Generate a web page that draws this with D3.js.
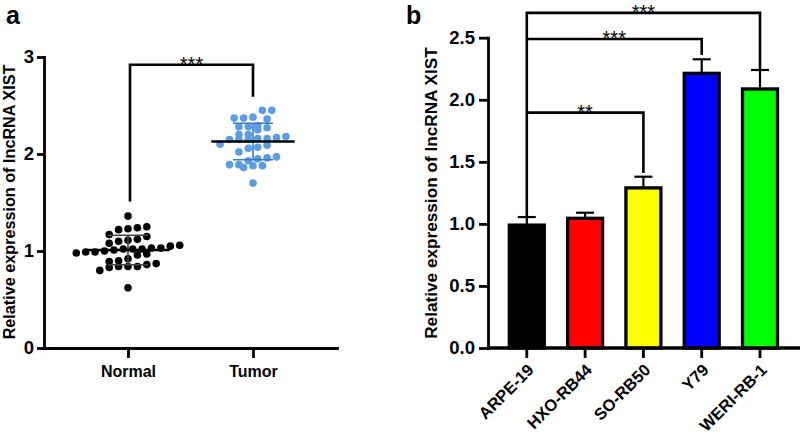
<!DOCTYPE html>
<html><head><meta charset="utf-8">
<script src="https://cdn.jsdelivr.net/npm/d3@7/dist/d3.min.js"></script>
<style>
html,body{margin:0;padding:0;background:#fff;}
svg{display:block;font-family:"Liberation Sans",Arial,Helvetica,sans-serif;}
</style></head>
<body>
<svg id="chart" width="800" height="434"></svg>
<script>
// ---------- Panel a data ----------
const groupsA = ["Normal", "Tumor"];
const normalValues = [1.36,1.25,1.24,1.23,1.22,1.17,1.15,1.12,1.11,1.10,1.08,1.06,1.05,1.03,1.03,1.02,1.02,1.02,1.01,1.00,
  0.99,0.99,0.98,0.97,0.96,0.92,0.90,0.89,0.87,0.86,0.84,0.84,0.84,0.83,0.80,0.62];
const tumorValues = [2.45,2.45,2.38,2.37,2.37,2.36,2.29,2.28,2.28,2.27,2.25,2.20,2.20,2.18,2.17,2.16,2.16,2.15,2.15,2.15,
  2.10,2.09,2.07,2.06,2.02,1.97,1.96,1.95,1.93,1.89,1.89,1.88,1.88,1.86,1.70];
const ticksA = [0, 1, 2, 3];
const sigA = [{from:"Normal", to:"Tumor", top:2.92, leftEnd:1.51, rightEnd:2.59, label:"***"}];

// ---------- Panel b data ----------
const cellLines = ["ARPE-19", "HXO-RB44", "SO-RB50", "Y79", "WERI-RB-1"];
const barValues = [0.99, 1.045, 1.29, 2.213, 2.087];
const barErrors = [0.065, 0.045, 0.09, 0.113, 0.153];
const barColors = ["#000000", "#ff0000", "#ffff00", "#0000ff", "#00ff00"];
const ticksB = [0, 0.5, 1.0, 1.5, 2.0, 2.5];
const sigB = [
  {from:"ARPE-19", to:"WERI-RB-1", top:2.70, leftEnd:1.056, rightEnd:2.24, label:"***"},
  {from:"ARPE-19", to:"Y79", top:2.49, leftEnd:2.49, rightEnd:2.36, label:"***"},
  {from:"ARPE-19", to:"SO-RB50", top:1.896, leftEnd:1.896, rightEnd:1.41, label:"**"}
];

const svg = d3.select("#chart");
const AXW = 2.8;

// ================= Panel a =================
const yA = d3.scaleLinear().domain([0,3]).range([348,57]);
const xA = d3.scalePoint().domain(groupsA).range([44,337]).padding(0.672);
const gA = svg.append("g");

const yAxisA = gA.append("g").attr("transform","translate(44,0)")
  .call(d3.axisLeft(yA).tickValues(ticksA).tickFormat(d3.format("d")).tickSize(7).tickSizeOuter(0).tickPadding(3));
const xAxisA = gA.append("g").attr("transform","translate(0,348)")
  .call(d3.axisBottom(xA).tickSize(10).tickSizeOuter(0).tickPadding(5));
[yAxisA, xAxisA].forEach(ax=>{
  ax.selectAll("path,line").attr("stroke","#000").attr("stroke-width",AXW);
  ax.select(".domain").attr("stroke-linecap","square");
});
yAxisA.selectAll("text").attr("font-size",18.5).attr("font-weight","bold").attr("fill","#000");
xAxisA.selectAll("text").attr("font-size",16).attr("font-weight","bold").attr("fill","#000").attr("dy","0.85em");

gA.append("text").attr("transform","translate(15,202) rotate(-90)")
  .attr("text-anchor","middle").attr("font-size",16.2).attr("font-weight","bold")
  .text("Relative expression of lncRNA XIST");
gA.append("text").attr("x",6).attr("y",24).attr("font-size",25).attr("font-weight","bold").text("a");

// Prism-style scatter rows
function rowLayout(values, yScale, spacing, binPx){
  const sorted = values.slice().sort((a,b)=>b-a);
  const rows = []; let bin = [];
  sorted.forEach(v=>{
    if(bin.length && (yScale(v) - yScale(bin[0])) > binPx){ rows.push(bin); bin = []; }
    bin.push(v);
  });
  if(bin.length) rows.push(bin);
  const pts = [];
  rows.forEach(b=>{
    const s = b.slice().sort((p,q)=>p-q);
    s.forEach((v,i)=>pts.push({v, dx:(i-(s.length-1)/2)*spacing}));
  });
  return pts;
}
const seriesA = [
  {name:"Normal", values:normalValues, color:"#000000", sdColor:"#444"},
  {name:"Tumor", values:tumorValues, color:"#5b9ce8", sdColor:"#3f78c2"}
];
seriesA.forEach(s=>{
  const cx = xA(s.name);
  const pts = rowLayout(s.values, yA, 9.4, 8);
  gA.append("g").selectAll("circle").data(pts).join("circle")
    .attr("cx",d=>cx+d.dx).attr("cy",d=>yA(d.v)).attr("r",3.8).attr("fill",s.color);
  const m = d3.mean(s.values), sd = d3.deviation(s.values);
  const g = gA.append("g");
  g.append("line").attr("x1",cx).attr("x2",cx).attr("y1",yA(m-sd)).attr("y2",yA(m+sd))
    .attr("stroke",s.sdColor).attr("stroke-width",1.6);
  [m-sd, m+sd].forEach(v=>g.append("line").attr("x1",cx-20).attr("x2",cx+20).attr("y1",yA(v)).attr("y2",yA(v))
    .attr("stroke",s.sdColor).attr("stroke-width",1.6));
  g.append("line").attr("x1",cx-41.7).attr("x2",cx+41.7).attr("y1",yA(m)).attr("y2",yA(m))
    .attr("stroke","#000").attr("stroke-width",2.4);
});

function drawBracket(g, x1, x2, yS, b, lw){
  const yt = yS(b.top);
  g.append("path").attr("d",`M${x1},${yS(b.leftEnd)}V${yt}H${x2}V${yS(b.rightEnd)}`)
    .attr("fill","none").attr("stroke","#000").attr("stroke-width",lw).attr("stroke-linejoin","miter");
  g.append("text").attr("x",(x1+x2)/2).attr("y",yt+6).attr("text-anchor","middle")
    .attr("font-size",20).attr("fill","#000").text(b.label);
}
sigA.forEach(b=>drawBracket(gA, xA(b.from)+2, xA(b.to), yA, b, 2.6));

// ================= Panel b =================
const yB = d3.scaleLinear().domain([0,2.5]).range([348,37.7]);
const xB = d3.scaleBand().domain(cellLines).range([497.65,789.15]).paddingInner(0.4).paddingOuter(0.2);
const gB = svg.append("g");

const yAxisB = gB.append("g").attr("transform","translate(488,0)")
  .call(d3.axisLeft(yB).tickValues(ticksB).tickFormat(d3.format(".1f")).tickSize(9).tickSizeOuter(0).tickPadding(4));
const xAxisB = gB.append("g").attr("transform","translate(0,348)")
  .call(d3.axisBottom(xB).tickSize(10).tickSizeOuter(0));
xAxisB.select(".domain").attr("d","M488,0H800");
[yAxisB, xAxisB].forEach(ax=>{
  ax.selectAll("path,line").attr("stroke","#000").attr("stroke-width",AXW);
  ax.select(".domain").attr("stroke-linecap","square");
});
yAxisB.selectAll("text").attr("font-size",18.5).attr("font-weight","bold").attr("fill","#000");
xAxisB.selectAll("text").attr("font-size",16.5).attr("font-weight","bold").attr("fill","#000")
  .attr("text-anchor","end").attr("dy",null).attr("y",null)
  .attr("transform","translate(8,23) rotate(-45)");

gB.append("text").attr("transform","translate(437,193) rotate(-90)")
  .attr("text-anchor","middle").attr("font-size",17.2).attr("font-weight","bold")
  .text("Relative expression of lncRNA XIST");
gB.append("text").attr("x",406).attr("y",24).attr("font-size",25).attr("font-weight","bold").text("b");

const barData = cellLines.map((c,i)=>({c, v:barValues[i], e:barErrors[i], col:barColors[i]}));
const eb = gB.append("g");
barData.forEach(d=>{
  const cx = xB(d.c) + xB.bandwidth()/2;
  eb.append("line").attr("x1",cx).attr("x2",cx).attr("y1",yB(d.v)).attr("y2",yB(d.v+d.e))
    .attr("stroke","#000").attr("stroke-width",2.2);
  eb.append("line").attr("x1",cx-9).attr("x2",cx+9).attr("y1",yB(d.v+d.e)).attr("y2",yB(d.v+d.e))
    .attr("stroke","#000").attr("stroke-width",2.2);
});
gB.append("g").selectAll("rect").data(barData).join("rect")
  .attr("x",d=>xB(d.c)).attr("width",xB.bandwidth())
  .attr("y",d=>yB(d.v)).attr("height",d=>yB(0)-yB(d.v))
  .attr("fill",d=>d.col).attr("stroke","#000").attr("stroke-width",3.3);
gB.append("path").attr("d","M488,348H800").attr("stroke","#000").attr("stroke-width",AXW);

sigB.forEach(b=>{
  const x1 = xB(b.from)+xB.bandwidth()/2, x2 = xB(b.to)+xB.bandwidth()/2;
  drawBracket(gB, x1, x2, yB, b, 2.6);
});
</script>
</body></html>
